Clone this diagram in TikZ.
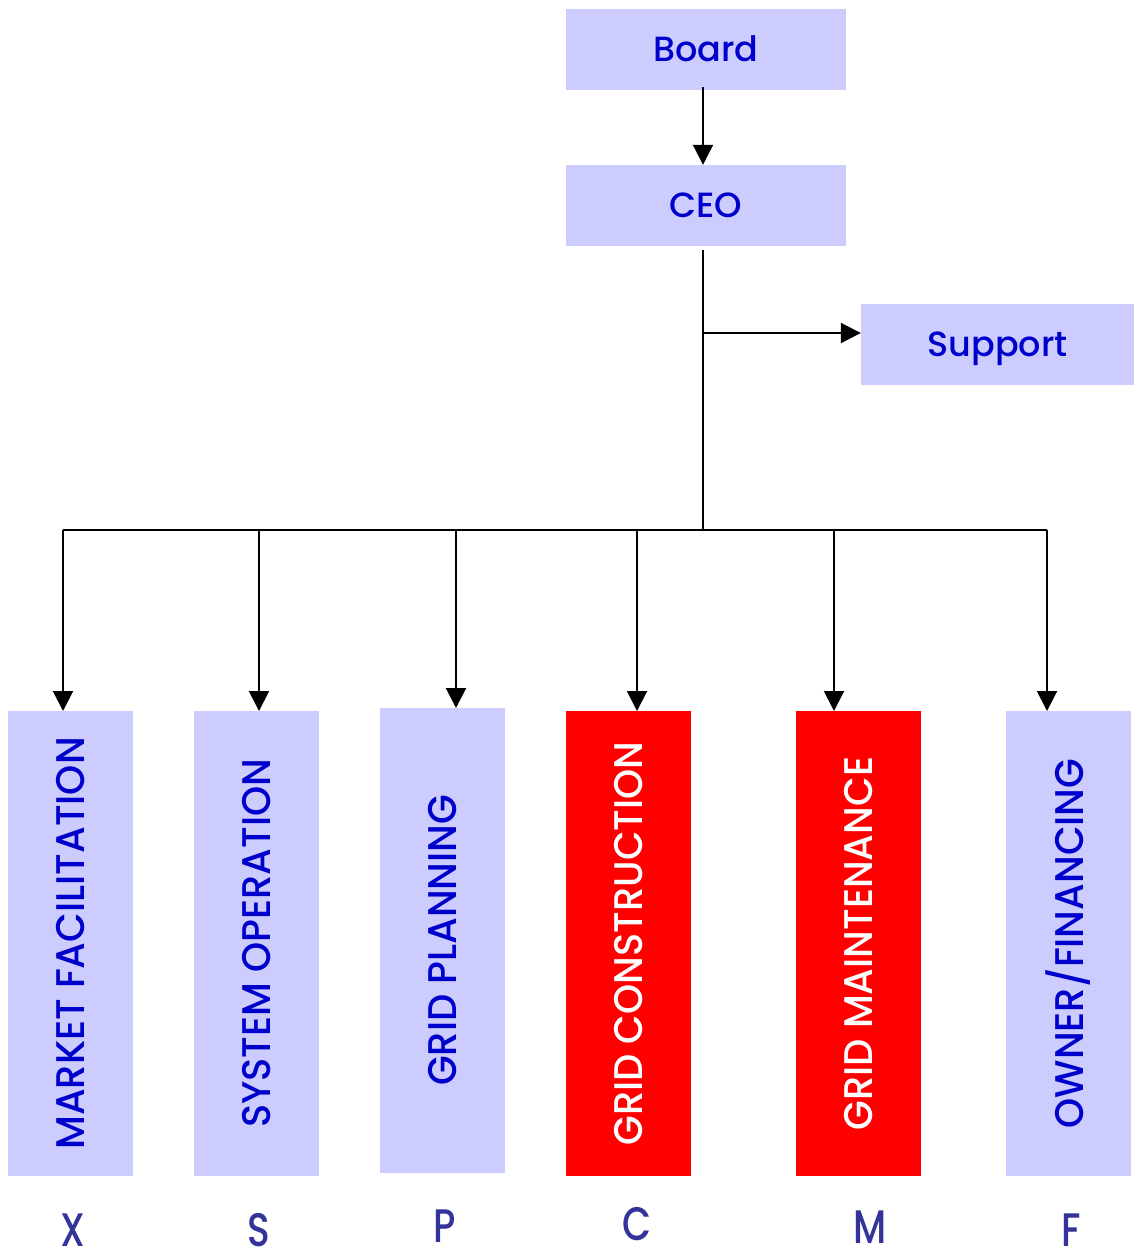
\documentclass[tikz,border=0pt]{standalone}
\usepackage{fontspec}
\setmainfont{Poppins}[UprightFont=* Medium]
\usetikzlibrary{arrows.meta}
\definecolor{boxblue}{HTML}{CCCCFF}
\definecolor{txtblue}{HTML}{0000CC}
\definecolor{letblue}{HTML}{333399}
\definecolor{boxred}{HTML}{FF0000}
\begin{document}
\begin{tikzpicture}[x=1pt,y=-1pt,
  topbox/.style={fill=boxblue,draw=none,minimum width=280pt,minimum height=81pt,inner sep=0pt,text=txtblue,font=\fontsize{35}{35}\selectfont,text height=24.5pt,text depth=0pt},
  colbox/.style={fill=boxblue,draw=none,minimum width=125pt,minimum height=465pt,inner sep=0pt,text=txtblue},
  redbox/.style={colbox,fill=boxred,text=white},
  coltext/.style={rotate=90,font=\fontsize{40}{40}\selectfont,inner sep=0pt},
  letter/.style={text=letblue,font=\fontsize{47}{47}\selectfont,inner sep=0pt},
  conn/.style={line width=2pt,-{Triangle[width=20pt,length=20pt]}},
  plain/.style={line width=2pt}]
\useasboundingbox (0,0) rectangle (1134,1255);
\node[topbox] (board) at (706,49.5) {Board};
\node[topbox] (ceo) at (706,205.5) {CEO};
\node[topbox,minimum width=273pt] (support) at (997.5,344.5) {Support};
\node[colbox] (mf) at (70.5,943.5) {};
\node[coltext,text=txtblue] at (mf.center) {\scalebox{0.96}[1]{MARKET FACILITATION}};
\node[colbox] (so) at (256.5,943.5) {};
\node[coltext,text=txtblue] at (so.center) {\scalebox{0.96}[1]{SYSTEM OPERATION}};
\node[colbox] (gp) at (442.5,940.5) {};
\node[coltext,text=txtblue] at (gp.center) {\scalebox{0.96}[1]{GRID PLANNING}};
\node[redbox] (gc) at (628.5,943.5) {};
\node[coltext,text=white] at (gc.center) {\scalebox{0.96}[1]{GRID CONSTRUCTION}};
\node[redbox] (gm) at (858.5,943.5) {};
\node[coltext,text=white] at (gm.center) {\scalebox{0.96}[1]{GRID MAINTENANCE}};
\node[colbox] (of) at (1068.5,943.5) {};
\node[coltext,text=txtblue] at (of.center) {\scalebox{0.96}[1]{OWNER/FINANCING}};
\node[letter] (lx) at (73,1230) {\scalebox{0.8}[1]{X}};
\node[letter] (ls) at (259,1230) {\scalebox{0.8}[1]{S}};
\node[letter] (lp) at (445,1226) {\scalebox{0.8}[1]{P}};
\node[letter] (lc) at (637,1224) {\scalebox{0.8}[1]{C}};
\node[letter] (lm) at (870,1227) {\scalebox{0.8}[1]{M}};
\node[letter] (lf) at (1071,1230) {\scalebox{0.8}[1]{F}};
\coordinate (j) at (703,530);
\coordinate (ceob) at (703,250);
\coordinate (tap) at (703,333);
\coordinate (bb) at (703,87);
\draw[conn] (bb) -- (bb |- ceo.north);
\draw[plain] (ceob) -- (j);
\draw[conn] (tap) -- (support.west |- tap);
\draw[plain] (63,530) -- (1047,530);
\draw[conn] (63,530) -- (63,711);
\draw[conn] (259,530) -- (259,711);
\draw[conn] (456,530) -- (456,708);
\draw[conn] (637,530) -- (637,711);
\draw[conn] (834,530) -- (834,711);
\draw[conn] (1047,530) -- (1047,711);
\end{tikzpicture}
\end{document}
